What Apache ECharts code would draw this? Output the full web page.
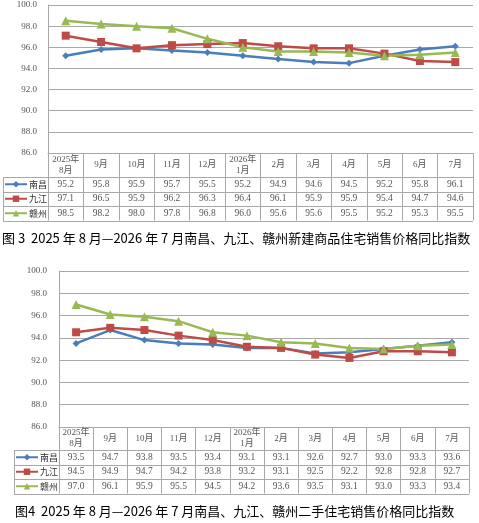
<!DOCTYPE html>
<html>
<head>
<meta charset="utf-8">
<script src="https://cdn.jsdelivr.net/npm/echarts@6/dist/echarts.min.js"></script>
<style>
  html, body { margin: 0; padding: 0; background: #fff; }
  #main { width: 479px; height: 523px; }
</style>
</head>
<body>
<div id="main"></div>
<script>
// months along the x axis / table header
var months = ['2025年\n8月', '9月', '10月', '11月', '12月', '2026年\n1月',
              '2月', '3月', '4月', '5月', '6月', '7月'];
var cities = ['南昌', '九江', '赣州'];

// 图3 新建商品住宅
var newNanchang = [95.2, 95.8, 95.9, 95.7, 95.5, 95.2, 94.9, 94.6, 94.5, 95.2, 95.8, 96.1];
var newJiujiang = [97.1, 96.5, 95.9, 96.2, 96.3, 96.4, 96.1, 95.9, 95.9, 95.4, 94.7, 94.6];
var newGanzhou  = [98.5, 98.2, 98.0, 97.8, 96.8, 96.0, 95.6, 95.6, 95.5, 95.2, 95.3, 95.5];

// 图4 二手住宅
var oldNanchang = [93.5, 94.7, 93.8, 93.5, 93.4, 93.1, 93.1, 92.6, 92.7, 93.0, 93.3, 93.6];
var oldJiujiang = [94.5, 94.9, 94.7, 94.2, 93.8, 93.2, 93.1, 92.5, 92.2, 92.8, 92.8, 92.7];
var oldGanzhou  = [97.0, 96.1, 95.9, 95.5, 94.5, 94.2, 93.6, 93.5, 93.1, 93.0, 93.3, 93.4];

var yMin = 86, yMax = 100, yStep = 2;
var caption1 = '图 3  2025 年 8 月—2026 年 7 月南昌、九江、赣州新建商品住宅销售价格同比指数';
var caption2 = '图4  2025 年 8 月—2026 年 7 月南昌、九江、赣州二手住宅销售价格同比指数';

var colors = ['#4A7EBB', '#BE4B48', '#98B954'];
var symbols = ['diamond', 'rect', 'triangle'];
var symSizes = [7, 8, 9];
var gridGray = '#A8A8A8';
var textGray = '#555';
var numFont = '"Liberation Serif", "Noto Sans CJK SC", serif';

// panel layout (pixels)
var panels = [
  {left: 48, right: 473, top: 5, bottom: 153, head: 24, row: 14.5, tabLeft: 3, capTop: 232, labMargin: 11,
   rows: [newNanchang, newJiujiang, newGanzhou], caption: caption1, capLeft: 2},
  {left: 59, right: 469, top: 271, bottom: 427, head: 23, row: 14.5, tabLeft: 14, capTop: 505, labMargin: 12,
   rows: [oldNanchang, oldJiujiang, oldGanzhou], caption: caption2, capLeft: 15}
];

var chart = echarts.init(document.getElementById('main'));

var grids = [], xAxes = [], yAxes = [], series = [], legends = [], titles = [], graphics = [];

panels.forEach(function (p, pi) {
  grids.push({left: p.left, top: p.top, width: p.right - p.left, height: p.bottom - p.top,
              containLabel: false});
  var tableH = p.head + p.row * 3;
  var xBase = xAxes.length;
  // header axis: labels = months, ticks draw the column lines of the table
  xAxes.push({
    type: 'category', gridIndex: pi, data: months, boundaryGap: true, position: 'bottom',
    axisLine: {show: true, lineStyle: {color: gridGray, width: 1}},
    axisTick: {show: true, interval: 0, length: tableH, lineStyle: {color: gridGray, width: 1}},
    axisLabel: {interval: 0, margin: p.head / 2, verticalAlign: 'middle', lineHeight: 11,
                fontSize: 9, color: textGray, fontFamily: numFont}
  });
  // one axis per table row, values as labels
  p.rows.forEach(function (vals, ri) {
    xAxes.push({
      type: 'category', gridIndex: pi, data: months, boundaryGap: true, position: 'bottom',
      offset: p.head + ri * p.row,
      axisLine: {show: false}, axisTick: {show: false}, splitLine: {show: false},
      axisLabel: {interval: 0, margin: p.row / 2, verticalAlign: 'middle',
                  fontSize: 9.5, color: textGray, fontFamily: numFont,
                  formatter: function (v, i) { return vals[i].toFixed(1); }}
    });
  });
  yAxes.push({
    type: 'value', gridIndex: pi, min: yMin, max: yMax, interval: yStep,
    axisLine: {show: true, lineStyle: {color: gridGray}},
    axisTick: {show: false},
    splitLine: {lineStyle: {color: gridGray, width: 1}},
    axisLabel: {margin: p.labMargin, fontSize: 9, color: textGray, fontFamily: numFont,
                formatter: function (v) { return v.toFixed(1); }}
  });
  p.rows.forEach(function (vals, ri) {
    series.push({
      name: cities[ri], type: 'line', xAxisIndex: xBase, yAxisIndex: pi, data: vals,
      symbol: symbols[ri], symbolSize: symSizes[ri], showAllSymbol: true,
      lineStyle: {color: colors[ri], width: 2.5},
      itemStyle: {color: colors[ri]},
      animation: false
    });
  });
  legends.push({
    data: cities, orient: 'vertical', left: p.tabLeft + 1, top: p.bottom + p.head + 1.25,
    padding: 0, itemWidth: 22, itemHeight: 8, itemGap: p.row - 12, selectedMode: false,
    textStyle: {fontSize: 9, lineHeight: 12, color: '#333', fontFamily: '"Noto Sans CJK SC", sans-serif',
                padding: [0, 0, 0, -3]}
  });
  titles.push({
    text: p.caption, left: p.capLeft, top: p.capTop, padding: 0,
    textStyle: {fontSize: 13, fontWeight: 'normal', color: '#000',
                fontFamily: '"Noto Sans CJK SC", sans-serif'}
  });
  // table horizontal borders (extend into the label column) and left border
  var lineStyle = {stroke: gridGray, lineWidth: 1};
  for (var k = 1; k <= 4; k++) {
    var y = Math.round(p.bottom + p.head + (k - 1) * p.row) + 0.5;
    graphics.push({type: 'line', silent: true,
                   shape: {x1: p.tabLeft, y1: y, x2: p.right, y2: y}, style: lineStyle});
  }
  graphics.push({type: 'line', silent: true,
                 shape: {x1: p.tabLeft + 0.5, y1: p.bottom + p.head, x2: p.tabLeft + 0.5, y2: p.bottom + tableH + 1},
                 style: lineStyle});
});

chart.setOption({
  animation: false,
  backgroundColor: '#fff',
  title: titles,
  legend: legends,
  grid: grids,
  xAxis: xAxes,
  yAxis: yAxes,
  series: series,
  graphic: graphics
});
</script>
</body>
</html>
